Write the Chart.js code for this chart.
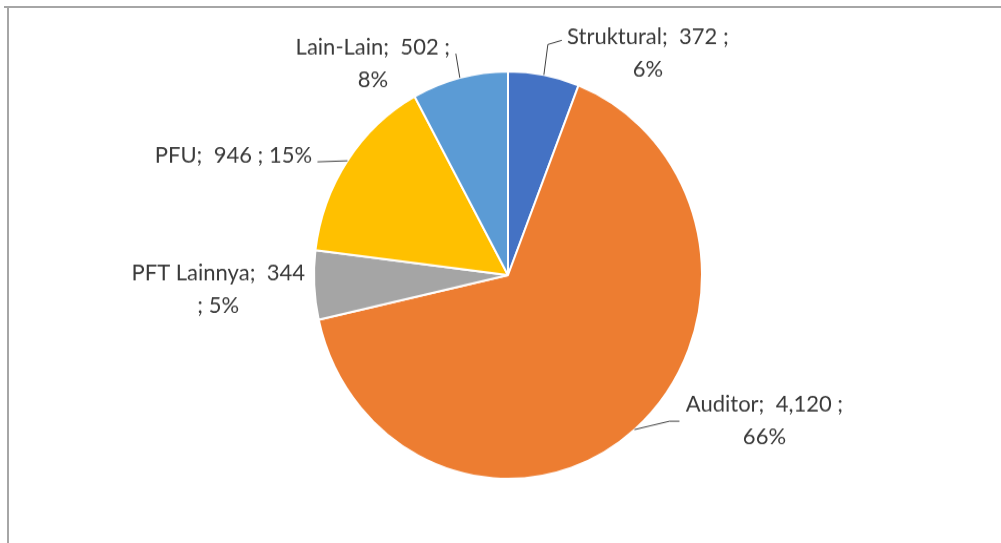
<!DOCTYPE html>
<html>
<head>
<meta charset="utf-8">
<script src="https://cdn.jsdelivr.net/npm/chart.js@4/dist/chart.umd.min.js"></script>
<style>
  html, body { margin: 0; padding: 0; background: #fff; }
  body { width: 1001px; height: 543px; overflow: hidden; position: relative; }
  #frameTop { position: absolute; left: 4px; top: 6px; width: 997px; height: 2px; background: #a6a6a6; }
  #frameLeft { position: absolute; left: 7px; top: 6px; width: 2px; height: 537px; background: #a6a6a6; }
  #wrap { position: absolute; left: 0; top: 0; width: 1001px; height: 517px; transform-origin: 0 0; transform: scaleY(1.05); }
</style>
</head>
<body>
<div id="frameTop"></div>
<div id="frameLeft"></div>
<div id="wrap"><canvas id="pieChart" width="1001" height="517"></canvas></div>
<script>
var categories = ['Struktural', 'Auditor', 'PFT Lainnya', 'PFU', 'Lain-Lain'];
var values = [372, 4120, 344, 946, 502];
var colors = ['#4472C4', '#ED7D31', '#A5A5A5', '#FFC000', '#5B9BD5'];

// label layout: where the text block sits relative to the slice edge, how it wraps, leader points
var labelOffsets = [[104, -21], [130, -9], [-96, 4], [-114, -5], [-87, -14]];
var wrapModes = ['pct', 'pct', 'semi', 'none', 'pct'];
var leaders = [
    [[4, -29], [18, -33]],
    [[35, -8], [45, -8]],
    [],
    [[-30, 1]],
    [[-4, -23]]
];

var total = values.reduce(function (a, b) { return a + b; }, 0);

function labelLines(i) {
    var v = values[i].toLocaleString('en-US');
    var pct = Math.round(values[i] / total * 100) + '%';
    var name = categories[i] + ';  ' + v;
    if (wrapModes[i] === 'pct') return [name + ' ;', pct];
    if (wrapModes[i] === 'semi') return [name, '; ' + pct];
    return [name + ' ; ' + pct];
}

var pieLabels = {
    id: 'pieLabels',
    afterDatasetsDraw: function (chart) {
        var ctx = chart.ctx;
        var arcs = chart.getDatasetMeta(0).data;
        ctx.save();
        ctx.font = '22px Lato';
        ctx.fillStyle = '#3a3a3a';
        ctx.strokeStyle = '#404040';
        ctx.lineWidth = 1;
        ctx.textAlign = 'center';
        ctx.textBaseline = 'middle';
        arcs.forEach(function (arc, i) {
            var mid = (arc.startAngle + arc.endAngle) / 2;
            var px = arc.x + Math.cos(mid) * arc.outerRadius;
            var py = arc.y + Math.sin(mid) * arc.outerRadius;
            if (leaders[i].length) {
                ctx.beginPath();
                ctx.moveTo(px, py);
                leaders[i].forEach(function (p) { ctx.lineTo(px + p[0], py + p[1]); });
                ctx.stroke();
            }
            var lines = labelLines(i);
            var lh = 31;
            var bx = px + labelOffsets[i][0];
            var by = py + labelOffsets[i][1] - (lines.length - 1) * lh / 2;
            lines.forEach(function (t, k) { ctx.fillText(t, bx, by + k * lh); });
        });
        ctx.restore();
    }
};

new Chart(document.getElementById('pieChart').getContext('2d'), {
    type: 'pie',
    data: {
        labels: categories,
        datasets: [{
            data: values,
            backgroundColor: colors,
            borderColor: '#ffffff',
            borderWidth: 2
        }]
    },
    options: {
        responsive: false,
        animation: false,
        events: [],
        layout: { padding: { top: 67, bottom: 60, left: 313, right: 298 } },
        plugins: {
            legend: { display: false },
            tooltip: { enabled: false }
        }
    },
    plugins: [pieLabels]
});
</script>
</body>
</html>
